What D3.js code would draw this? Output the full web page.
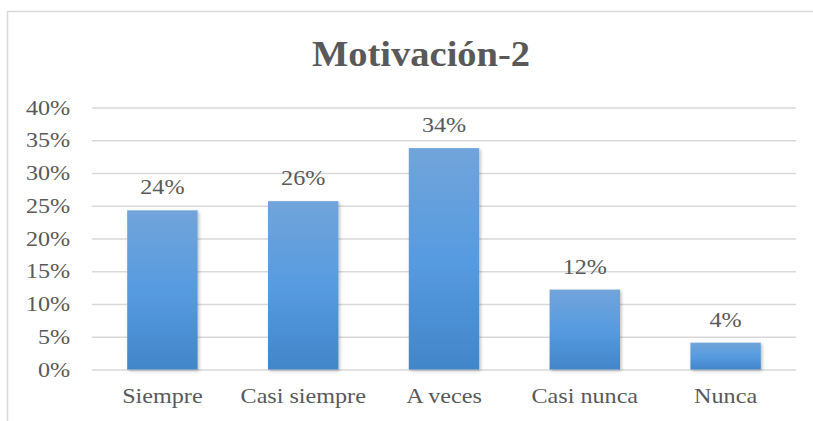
<!DOCTYPE html>
<html>
<head>
<meta charset="utf-8">
<script src="https://cdn.jsdelivr.net/npm/d3@7"></script>
<style>
  body { margin: 0; background: #fff; }
  svg { display: block; }
</style>
</head>
<body>
<script>
// Data
var categories = ["Siempre", "Casi siempre", "A veces", "Casi nunca", "Nunca"];
var values = [0.243, 0.257, 0.338, 0.122, 0.041];
var valueLabels = ["24%", "26%", "34%", "12%", "4%"];
var yTicks = [0, 0.05, 0.10, 0.15, 0.20, 0.25, 0.30, 0.35, 0.40];

// note: "top" is taken by window.top, so use other names
var w = 813,
    h = 421,
    plotLeft = 92, plotRight = 796,
    plotTop = 107.5, plotBottom = 369.5,
    textColor = "#595959",
    stretch = 1.15, // reference text is a bit wider than Liberation Serif
    fontFamily = "'Liberation Serif', 'Times New Roman', serif";

var svg = d3.select("body")
            .append("svg")
            .attr("width", w)
            .attr("height", h);

// gradient for the bars
var defs = svg.append("defs");
var grad = defs.append("linearGradient")
               .attr("id", "barGrad")
               .attr("x1", 0).attr("y1", 0)
               .attr("x2", 0).attr("y2", 1);
grad.append("stop").attr("offset", "0%").attr("stop-color", "#71a4da");
grad.append("stop").attr("offset", "50%").attr("stop-color", "#579be0");
grad.append("stop").attr("offset", "100%").attr("stop-color", "#4186c8");

var shadow = defs.append("filter")
                 .attr("id", "shadow")
                 .attr("x", "-20%").attr("y", "-20%")
                 .attr("width", "150%").attr("height", "150%");
shadow.append("feDropShadow")
      .attr("dx", 1.5).attr("dy", 1.5)
      .attr("stdDeviation", 1.5)
      .attr("flood-color", "#000")
      .attr("flood-opacity", 0.25);

// chart border (cut off at right and bottom in the reference)
svg.append("rect")
   .attr("x", 7.5).attr("y", 11.5)
   .attr("width", 900).attr("height", 500)
   .attr("fill", "none")
   .attr("stroke", "#d9d9d9")
   .attr("stroke-width", 1.5);

var x = d3.scaleBand()
          .domain(categories)
          .range([plotLeft, plotRight])
          .paddingInner(0.5)
          .paddingOuter(0.25);

var y = d3.scaleLinear()
          .domain([0, 0.4])
          .range([plotBottom, plotTop]);

// gridlines + tick labels through a d3 axis
var yAxis = d3.axisLeft(y)
              .tickValues(yTicks)
              .tickFormat(d3.format(".0%"))
              .tickSize(-(plotRight - plotLeft))
              .tickPadding(19);

var gy = svg.append("g")
            .attr("transform", "translate(" + plotLeft + ",0)")
            .call(yAxis);
gy.select(".domain").remove();
gy.selectAll(".tick line")
  .attr("stroke", "#d9d9d9")
  .attr("stroke-width", 1.5);
gy.selectAll(".tick text")
  .attr("fill", textColor)
  .attr("font-family", fontFamily)
  .attr("font-size", "21px")
  .attr("transform", "scale(" + stretch + ",1)");

// bars
svg.selectAll("rect.bar")
   .data(values)
   .enter()
   .append("rect")
   .attr("class", "bar")
   .attr("x", function (d, i) { return x(categories[i]); })
   .attr("y", function (d) { return y(d); })
   .attr("width", x.bandwidth())
   .attr("height", function (d) { return plotBottom - y(d); })
   .attr("fill", "url(#barGrad)")
   .attr("filter", "url(#shadow)");

// value labels
svg.selectAll("text.val")
   .data(values)
   .enter()
   .append("text")
   .attr("class", "val")
   .text(function (d, i) { return valueLabels[i]; })
   .attr("text-anchor", "middle")
   .attr("transform", function (d, i) {
       var cx = x(categories[i]) + x.bandwidth() / 2;
       return "translate(" + cx + "," + (y(d) - 16) + ") scale(" + stretch + ",1)";
    })
   .attr("fill", textColor)
   .attr("font-family", fontFamily)
   .attr("font-size", "21px");

// category labels
var xAxis = d3.axisBottom(x).tickSize(0).tickPadding(19);
var gx = svg.append("g")
            .attr("transform", "translate(0," + plotBottom + ")")
            .call(xAxis);
gx.select(".domain").remove();
gx.selectAll(".tick text")
  .attr("fill", textColor)
  .attr("font-family", fontFamily)
  .attr("font-size", "21px")
  .attr("transform", "scale(" + stretch + ",1)");

// title
svg.append("text")
   .text("Motivación-2")
   .attr("transform", "translate(421,66) scale(1.1,1)")
   .attr("text-anchor", "middle")
   .attr("fill", textColor)
   .attr("font-family", fontFamily)
   .attr("font-weight", "bold")
   .attr("font-size", "35px");
</script>
</body>
</html>
